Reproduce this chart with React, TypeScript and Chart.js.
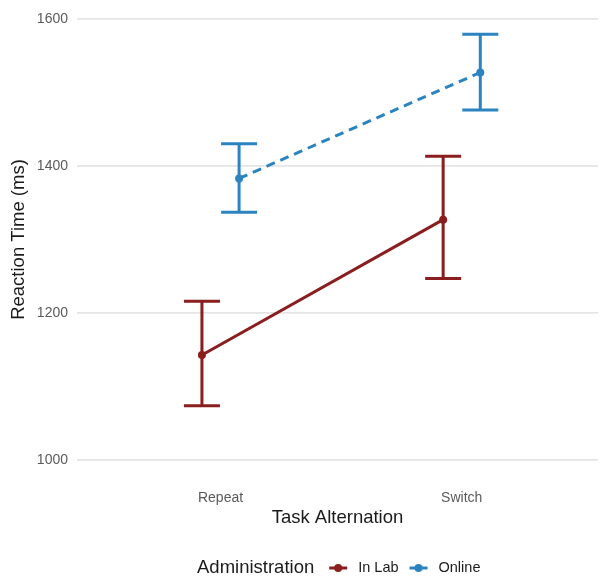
import React, { useEffect, useRef } from "react";
import { Chart, registerables } from "chart.js";

Chart.register(...registerables);

// ---- data ----
const categories = ["Repeat", "Switch"];
const seriesNames = ["In Lab", "Online"];
const inLabMean = [1143, 1327];
const inLabLower = [1074, 1247];
const inLabUpper = [1216, 1413];
const onlineMean = [1383, 1527];
const onlineLower = [1337, 1476];
const onlineUpper = [1430, 1579];
const yTickValues = [1000, 1200, 1400, 1600];

const seriesColors = ["#8A1D1D", "#2B84C0"];
const dodge = [-0.077, 0.077];
const FONT = "'Liberation Sans', Arial, Helvetica, sans-serif";

function buildPoints(mean: number[], lo: number[], hi: number[], d: number) {
  return categories.map((_, i) => ({ x: i + 1 + d, y: mean[i], lo: lo[i], hi: hi[i] }));
}

const errorBarPlugin = {
  id: "errorBars",
  beforeDatasetsDraw(chart: any) {
    const { ctx, scales } = chart;
    chart.data.datasets.forEach((ds: any) => {
      ctx.save();
      ctx.strokeStyle = ds.borderColor;
      ctx.lineWidth = 3;
      ctx.setLineDash([]);
      ds.data.forEach((p: any) => {
        const x = scales.x.getPixelForValue(p.x);
        const yl = scales.y.getPixelForValue(p.lo);
        const yh = scales.y.getPixelForValue(p.hi);
        const cap = 18;
        ctx.beginPath();
        ctx.moveTo(x, yl);
        ctx.lineTo(x, yh);
        ctx.moveTo(x - cap, yl);
        ctx.lineTo(x + cap, yl);
        ctx.moveTo(x - cap, yh);
        ctx.lineTo(x + cap, yh);
        ctx.stroke();
      });
      ctx.restore();
    });
  },
};

const legendPlugin = {
  id: "ggLegend",
  afterDraw(chart: any) {
    const { ctx } = chart;
    const cy = 568;
    let x = 197;
    ctx.save();
    ctx.textBaseline = "middle";
    ctx.textAlign = "left";
    ctx.fillStyle = "#1a1a1a";
    ctx.font = `18.5px ${FONT}`;
    ctx.fillText("Administration", x, cy);
    x += ctx.measureText("Administration").width + 15;
    chart.data.datasets.forEach((ds: any, i: number) => {
      ctx.strokeStyle = ds.borderColor;
      ctx.fillStyle = ds.borderColor;
      ctx.lineWidth = 3;
      ctx.setLineDash([]);
      ctx.beginPath();
      ctx.moveTo(x, cy);
      ctx.lineTo(x + 18, cy);
      ctx.stroke();
      ctx.beginPath();
      ctx.arc(x + 9, cy, 4, 0, Math.PI * 2);
      ctx.fill();
      x += 29;
      ctx.fillStyle = "#1a1a1a";
      ctx.font = `14.5px ${FONT}`;
      ctx.fillText(seriesNames[i], x, cy);
      x += ctx.measureText(seriesNames[i]).width + 11;
    });
    ctx.restore();
  },
};

export default function App() {
  const ref = useRef<HTMLCanvasElement | null>(null);

  useEffect(() => {
    if (!ref.current) return;
    const chart = new Chart(ref.current, {
      type: "line",
      data: {
        datasets: [
          {
            label: seriesNames[0],
            data: buildPoints(inLabMean, inLabLower, inLabUpper, dodge[0]) as any,
            borderColor: seriesColors[0],
            backgroundColor: seriesColors[0],
            borderWidth: 3,
            pointRadius: 4,
            pointBorderWidth: 0,
          },
          {
            label: seriesNames[1],
            data: buildPoints(onlineMean, onlineLower, onlineUpper, dodge[1]) as any,
            borderColor: seriesColors[1],
            backgroundColor: seriesColors[1],
            borderWidth: 3,
            borderDash: [9, 6],
            pointRadius: 4,
            pointBorderWidth: 0,
          },
        ],
      },
      options: {
        animation: false,
        responsive: false,
        layout: { padding: { top: 3, left: 0, right: 0, bottom: 0 } },
        plugins: {
          legend: { display: false },
          tooltip: { enabled: false },
        },
        scales: {
          x: {
            type: "linear",
            min: 0.405,
            max: 2.565,
            afterBuildTicks: (s: any) => {
              s.ticks = categories.map((_, i) => ({ value: i + 1 }));
            },
            afterFit: (s: any) => {
              s.height = 106;
              s.paddingLeft = 0;
              s.paddingRight = 0;
            },
            ticks: {
              callback: (v: any) => categories[Math.round(Number(v)) - 1] ?? "",
              color: "#5a5a5a",
              font: { family: FONT, size: 14 },
              padding: 15,
              maxRotation: 0,
              autoSkip: false,
            },
            grid: { display: false, drawTicks: false },
            border: { display: false },
            title: {
              display: true,
              text: "Task Alternation",
              color: "#1a1a1a",
              font: { family: FONT, size: 18.5 },
              padding: { top: 0, bottom: 52 },
            },
          },
          y: {
            type: "linear",
            min: 980,
            max: 1620,
            afterBuildTicks: (s: any) => {
              s.ticks = yTickValues.map((v) => ({ value: v }));
            },
            afterFit: (s: any) => {
              s.width = 77;
              s.paddingTop = 0;
              s.paddingBottom = 0;
            },
            ticks: {
              color: "#5a5a5a",
              font: { family: FONT, size: 14 },
              padding: 9,
              callback: (v: any) => String(v),
            },
            grid: { color: "#e4e4e4", lineWidth: 1.8, drawTicks: false },
            border: { display: false },
            title: {
              display: true,
              text: "Reaction Time (ms)",
              color: "#1a1a1a",
              font: { family: FONT, size: 18.5 },
              padding: { top: 8, bottom: 0 },
            },
          },
        },
      } as any,
      plugins: [errorBarPlugin, legendPlugin],
    });
    return () => chart.destroy();
  }, []);

  return (
    <div style={{ position: "fixed", left: 0, top: 0, width: 602, height: 581, background: "#fff" }}>
      <canvas ref={ref} width={602} height={581} style={{ display: "block" }} />
    </div>
  );
}
